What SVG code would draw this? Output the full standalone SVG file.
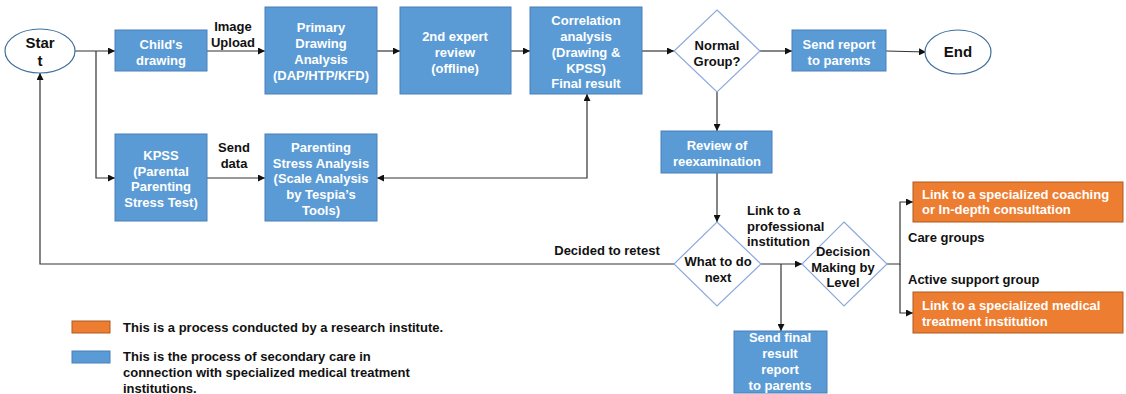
<svg xmlns="http://www.w3.org/2000/svg" width="1126" height="394" viewBox="0 0 1126 394">
<style>
text{font-family:"Liberation Sans",Arial,sans-serif;font-weight:bold;font-size:13px}
.w{fill:#fff}
.k{fill:#111}
.m{text-anchor:middle}
.blue{fill:#5B9BD5;stroke:#4A7EBB;stroke-width:1}
.orange{fill:#ED7D31;stroke:#AE5A21;stroke-width:1}
.dia{fill:#fff;stroke:#8EAADB;stroke-width:1.2}
.ell{fill:#fff;stroke:#41719C;stroke-width:1.2}
.c{fill:none;stroke:#333;stroke-width:1.2}
.big{font-size:15px}
.lg{font-size:13px}
</style>
<defs>
<marker id="ah" viewBox="0 0 10 10" refX="10" refY="5" markerWidth="7" markerHeight="7" markerUnits="userSpaceOnUse" orient="auto-start-reverse">
<path d="M0,0 L10,5 L0,10 z" fill="#111"/>
</marker>
</defs>
<rect width="1126" height="394" fill="#fff"/>

<g id="connectors">
<path class="c" d="M75,51 H115" marker-end="url(#ah)"/>
<path class="c" d="M96,51 V178 H115" marker-end="url(#ah)"/>
<path class="c" d="M207,51 H265" marker-end="url(#ah)"/>
<path class="c" d="M207,178 H265" marker-end="url(#ah)"/>
<path class="c" d="M377,51 H400" marker-end="url(#ah)"/>
<path class="c" d="M511,51 H530" marker-end="url(#ah)"/>
<path class="c" d="M587,94 V178 H377" marker-start="url(#ah)" marker-end="url(#ah)"/>
<path class="c" d="M642,51 H674" marker-end="url(#ah)"/>
<path class="c" d="M760,51 H792" marker-end="url(#ah)"/>
<path class="c" d="M886,51 L926,52" marker-end="url(#ah)"/>
<path class="c" d="M717,92 V131" marker-end="url(#ah)"/>
<path class="c" d="M717,173 V222" marker-end="url(#ah)"/>
<path class="c" d="M674,264 H40 V73" marker-end="url(#ah)"/>
<path class="c" d="M761,264 H802" marker-end="url(#ah)"/>
<path class="c" d="M781,264 V331" marker-end="url(#ah)"/>
<path class="c" d="M887,264 H900 V202 H913" marker-end="url(#ah)"/>
<path class="c" d="M900,264 V313 H913" marker-end="url(#ah)"/>
</g>

<g id="labels">
<text class="k m" x="233" y="31">Image</text>
<text class="k m" x="233" y="47">Upload</text>
<text class="k m" x="234" y="152">Send</text>
<text class="k m" x="234" y="168">data</text>
<text class="k m" x="607" y="255">Decided to retest</text>
<text class="k" x="747" y="215">Link to a</text>
<text class="k" x="747" y="231">professional</text>
<text class="k" x="747" y="246">institution</text>
<text class="k" x="908" y="242">Care groups</text>
<text class="k" x="908" y="284">Active support group</text>
</g>

<g id="start">
<ellipse class="ell" cx="40" cy="51" rx="35" ry="22"/>
<text class="k m big" x="40" y="48">Star</text>
<text class="k m big" x="40" y="66">t</text>
</g>

<g id="childs-drawing">
<rect class="blue" x="115" y="30" width="92" height="41"/>
<text class="w m" x="161" y="49">Child's</text>
<text class="w m" x="161" y="65">drawing</text>
</g>

<g id="kpss">
<rect class="blue" x="115" y="134" width="92" height="87"/>
<text class="w m" x="161" y="160">KPSS</text>
<text class="w m" x="161" y="176">(Parental</text>
<text class="w m" x="161" y="191">Parenting</text>
<text class="w m" x="161" y="207">Stress Test)</text>
</g>

<g id="primary">
<rect class="blue" x="265" y="7" width="112" height="87"/>
<text class="w m" x="321" y="32">Primary</text>
<text class="w m" x="321" y="48">Drawing</text>
<text class="w m" x="321" y="64">Analysis</text>
<text class="w m" x="321" y="80">(DAP/HTP/KFD)</text>
</g>

<g id="parenting-stress">
<rect class="blue" x="265" y="134" width="112" height="87"/>
<text class="w m" x="321" y="152">Parenting</text>
<text class="w m" x="321" y="168">Stress Analysis</text>
<text class="w m" x="321" y="183">(Scale Analysis</text>
<text class="w m" x="321" y="199">by Tespia’s</text>
<text class="w m" x="321" y="215">Tools)</text>
</g>

<g id="expert-review">
<rect class="blue" x="400" y="7" width="111" height="87"/>
<text class="w m" x="455" y="41">2nd expert</text>
<text class="w m" x="455" y="57">review</text>
<text class="w m" x="455" y="73">(offline)</text>
</g>

<g id="correlation">
<rect class="blue" x="530" y="7" width="112" height="87"/>
<text class="w m" x="586" y="25">Correlation</text>
<text class="w m" x="586" y="41">analysis</text>
<text class="w m" x="586" y="57">(Drawing &amp;</text>
<text class="w m" x="586" y="73">KPSS)</text>
<text class="w m" x="586" y="88">Final result</text>
</g>

<g id="normal-group">
<path class="dia" d="M717,10 L760,51 L717,92 L674,51 z"/>
<text class="k m" x="717" y="50">Normal</text>
<text class="k m" x="717" y="66">Group?</text>
</g>

<g id="send-report">
<rect class="blue" x="792" y="30" width="94" height="41"/>
<text class="w m" x="839" y="49">Send report</text>
<text class="w m" x="839" y="65">to parents</text>
</g>

<g id="end">
<ellipse class="ell" cx="958" cy="52" rx="33" ry="22"/>
<text class="k m big" x="958" y="57">End</text>
</g>

<g id="review">
<rect class="blue" x="661" y="131" width="111" height="42"/>
<text class="w m" x="717" y="150">Review of</text>
<text class="w m" x="717" y="166">reexamination</text>
</g>

<g id="what-next">
<path class="dia" d="M717,222 L761,264 L717,306 L674,264 z"/>
<text class="k m" x="718" y="266">What to do</text>
<text class="k m" x="718" y="282">next</text>
</g>

<g id="decision">
<path class="dia" d="M844,222 L887,264 L844,306 L802,264 z"/>
<text class="k m" x="843" y="256">Decision</text>
<text class="k m" x="843" y="272">Making by</text>
<text class="k m" x="843" y="287">Level</text>
</g>

<g id="send-final">
<rect class="blue" x="734" y="331" width="93" height="62"/>
<text class="w m" x="780" y="342">Send final</text>
<text class="w m" x="780" y="358">result</text>
<text class="w m" x="780" y="374">report</text>
<text class="w m" x="780" y="390">to parents</text>
</g>

<g id="coaching">
<rect class="orange" x="913" y="182" width="210" height="40"/>
<text class="w" x="922" y="199">Link to a specialized coaching</text>
<text class="w" x="922" y="214">or In-depth consultation</text>
</g>

<g id="medical">
<rect class="orange" x="913" y="292" width="210" height="41"/>
<text class="w" x="922" y="310">Link to a specialized medical</text>
<text class="w" x="922" y="326">treatment institution</text>
</g>

<g id="legend">
<rect class="orange" x="72" y="321" width="38" height="12"/>
<text class="k lg" x="123" y="332">This is a process conducted by a research institute.</text>
<rect class="blue" x="72" y="351" width="38" height="12"/>
<text class="k lg" x="123" y="361">This is the process of secondary care in</text>
<text class="k lg" x="123" y="377">connection with specialized medical treatment</text>
<text class="k lg" x="123" y="393">institutions.</text>
</g>
</svg>
